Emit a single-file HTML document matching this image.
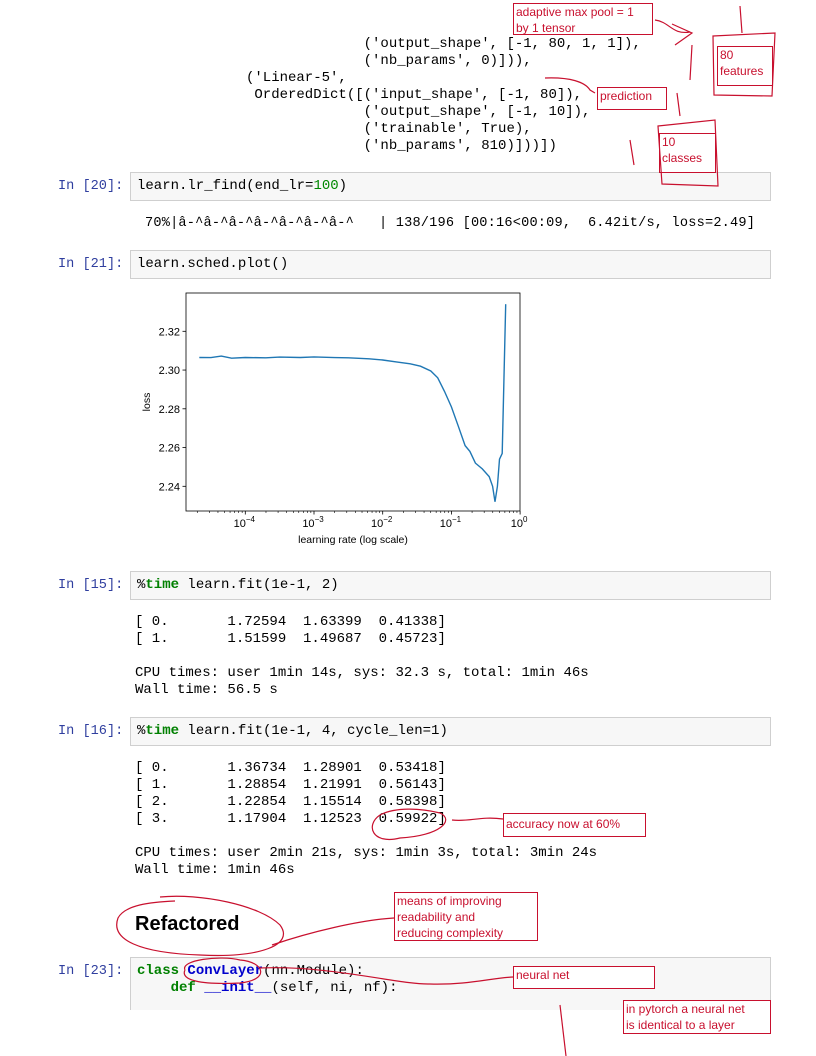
<!DOCTYPE html>
<html><head><meta charset="utf-8">
<style>
body{margin:0;width:816px;height:1056px;background:#fff;position:relative;overflow:hidden;font-family:"Liberation Mono",monospace;}
.t{position:absolute;font-family:"Liberation Mono",monospace;font-size:14px;color:#000;white-space:pre;line-height:17px;}
.p{position:absolute;font-family:"Liberation Mono",monospace;font-size:13.6px;color:#303F9F;white-space:pre;line-height:17px;}
.cell{position:absolute;left:130px;width:639px;background:#f7f7f7;border:1px solid #cfcfcf;}
.k{color:#008000;font-weight:bold}
.n{color:#0000cc;font-weight:bold}
.a{position:absolute;border:1px solid #c8102e;color:#c8102e;font-family:"Liberation Sans",sans-serif;font-size:12px;line-height:16px;padding:0 2px;box-sizing:border-box;background:#fff;}
</style></head><body>
<div class="t" style="left:246px;top:36px">              ('output_shape', [-1, 80, 1, 1]),
              ('nb_params', 0)])),
('Linear-5',
 OrderedDict([('input_shape', [-1, 80]),
              ('output_shape', [-1, 10]),
              ('trainable', True),
              ('nb_params', 810)]))])</div>

<div class="p" style="left:58px;top:178px">In [20]:</div>
<div class="cell" style="top:172px;height:27px"></div>
<div class="t" style="left:137px;top:178px">learn.lr_find(end_lr=<span style="color:#080">100</span>)</div>
<div class="t" style="left:145px;top:215px;font-size:13.6px;letter-spacing:0.2px">70%|â-^â-^â-^â-^â-^â-^â-^   | 138/196 [00:16&lt;00:09,  6.42it/s, loss=2.49]</div>

<div class="p" style="left:58px;top:256px">In [21]:</div>
<div class="cell" style="top:250px;height:27px"></div>
<div class="t" style="left:137px;top:256px">learn.sched.plot()</div>

<svg id="chart" style="position:absolute;left:0;top:0" width="816" height="560"></svg>

<div class="p" style="left:58px;top:577px">In [15]:</div>
<div class="cell" style="top:571px;height:27px"></div>
<div class="t" style="left:137px;top:577px">%<span class="k">time</span> learn.fit(1e-1, 2)</div>
<div class="t" style="left:135px;top:614px">[ 0.       1.72594  1.63399  0.41338]
[ 1.       1.51599  1.49687  0.45723]

CPU times: user 1min 14s, sys: 32.3 s, total: 1min 46s
Wall time: 56.5 s</div>

<div class="p" style="left:58px;top:723px">In [16]:</div>
<div class="cell" style="top:717px;height:27px"></div>
<div class="t" style="left:137px;top:723px">%<span class="k">time</span> learn.fit(1e-1, 4, cycle_len=1)</div>
<div class="t" style="left:135px;top:760px">[ 0.       1.36734  1.28901  0.53418]
[ 1.       1.28854  1.21991  0.56143]
[ 2.       1.22854  1.15514  0.58398]
[ 3.       1.17904  1.12523  0.59922]

CPU times: user 2min 21s, sys: 1min 3s, total: 3min 24s
Wall time: 1min 46s</div>

<div style="position:absolute;left:135px;top:913px;font-family:'Liberation Sans',sans-serif;font-weight:bold;font-size:20px">Refactored</div>

<div class="p" style="left:58px;top:963px">In [23]:</div>
<div class="cell" style="top:957px;height:52px;border-bottom:none"></div>
<div class="t" style="left:137px;top:963px"><span class="k">class</span> <span class="n">ConvLayer</span>(nn.Module):
    <span class="k">def</span> <span class="n">__init__</span>(self, ni, nf):</div>

<div class="a" style="left:513px;top:3px;width:140px;height:32px">adaptive max pool = 1<br>by 1 tensor</div>
<div class="a" style="left:717px;top:46px;width:56px;height:40px">80<br>features</div>
<div class="a" style="left:597px;top:87px;width:70px;height:23px">prediction</div>
<div class="a" style="left:659px;top:133px;width:57px;height:40px">10<br>classes</div>
<div class="a" style="left:503px;top:813px;width:143px;height:24px;line-height:20px">accuracy now at 60%</div>
<div class="a" style="left:394px;top:892px;width:144px;height:49px">means of improving<br>readability and<br>reducing complexity</div>
<div class="a" style="left:513px;top:966px;width:142px;height:23px">neural net</div>
<div class="a" style="left:623px;top:1000px;width:148px;height:34px">in pytorch a neural net<br>is identical to a layer</div>

<svg style="position:absolute;left:0;top:0" width="816" height="1056" fill="none" stroke="#c8102e" stroke-width="1.2">
<path d="M655 20 C670 22,672 35,690 32 M672 24 L692 33 L675 45"/>
<path d="M740 6 L742 33 M713 36 L775 33 L772 96 L714 95 Z M690 80 L692 45"/>
<path d="M545 78 C570 77,585 82,590 90 L595 93"/>
<path d="M677 93 L680 116 M658 126 L715 120 L718 186 L662 184 Z M630 140 L634 165"/>
<path d="M452 820 C470 822,480 816,503 819"/>
<path d="M380 815 C365 825,372 845,400 838 C440 836,455 820,440 813 C420 808,395 807,380 815"/>
<path d="M160 897 C200 893,260 905,280 925 C295 945,260 958,200 955 C140 953,110 940,118 918 C125 905,150 902,175 901"/>
<path d="M272 945 C310 932,360 920,394 918"/>
<path d="M185 970 C180 960,220 955,240 960 C265 962,270 980,240 983 C200 985,180 980,185 970"/>
<path d="M260 968 C330 965,400 985,430 984 C470 985,490 978,513 977"/>
<path d="M560 1005 L566 1056"/>
</svg>

<script>
const lrLog=[-4.67,-4.5,-4.35,-4.2,-4.0,-3.7,-3.5,-3.2,-3.0,-2.7,-2.5,-2.2,-2.0,-1.8,-1.6,-1.45,-1.3,-1.2,-1.1,-1.0,-0.9,-0.8,-0.73,-0.65,-0.55,-0.45,-0.4,-0.365,-0.33,-0.3,-0.26,-0.21];
const loss=[2.3065,2.3064,2.3072,2.3061,2.3065,2.3063,2.3067,2.3065,2.3068,2.3064,2.3063,2.3058,2.3052,2.3042,2.3032,2.302,2.2995,2.296,2.289,2.281,2.271,2.261,2.258,2.252,2.249,2.245,2.240,2.232,2.240,2.254,2.257,2.334];
const yTicks=[2.24,2.26,2.28,2.30,2.32];
const xTicks=[-4,-3,-2,-1,0];
const L=186,R=520,T=293,B=511;
const xs=v=>245.3+(v+4)*68.7;
const ys=v=>331.3+(2.32-v)/0.02*38.75;
const svg=document.getElementById('chart');
const NS='http://www.w3.org/2000/svg';
function mk(t,a){const e=document.createElementNS(NS,t);for(const k in a)e.setAttribute(k,a[k]);svg.appendChild(e);return e;}
let f=mk('rect',{x:L,y:T,width:R-L,height:B-T,fill:'none',stroke:'#000','stroke-width':0.8});


yTicks.forEach(v=>{const y=ys(v);
 let l=mk('line',{x1:L-3.5,x2:L,y1:y,y2:y,stroke:'#000','stroke-width':0.8});
 
 
 let t=mk('text',{x:L-6,y:y+4,'text-anchor':'end','font-size':11,'font-family':'Liberation Sans, sans-serif'});
 t.textContent=v.toFixed(2);
 
 });
xTicks.forEach(v=>{const x=xs(v);
 let l=mk('line',{x1:x,x2:x,y1:B,y2:B+3.5,stroke:'#000','stroke-width':0.8});
 
 
 let t=mk('text',{x:x-1,y:B+16,'text-anchor':'middle','font-size':11,'font-family':'Liberation Sans, sans-serif'});
 t.innerHTML='10<tspan dy="-5" font-size="8">'+(v===0?'0':'−'+(-v))+'</tspan>';
 
 
 for(let m=2;m<10;m++){const xm=x+Math.log10(m)*68.7-68.7; if(xm>L){let q=mk('line',{x1:xm,x2:xm,y1:B,y2:B+2,stroke:'#000','stroke-width':0.6});}}
});
let p=mk('polyline',{points:lrLog.map((v,i)=>xs(v).toFixed(1)+','+ys(loss[i]).toFixed(1)).join(' '),fill:'none',stroke:'#1f77b4','stroke-width':1.4});


let yl=mk('text',{x:150,y:402,'text-anchor':'middle','font-size':10.5,'font-family':'Liberation Sans, sans-serif',transform:'rotate(-90 150 402)'});
yl.textContent='loss';


let xl=mk('text',{x:353,y:543,'text-anchor':'middle','font-size':10.5,'font-family':'Liberation Sans, sans-serif'});
xl.textContent='learning rate (log scale)';


</script>
</body></html>
